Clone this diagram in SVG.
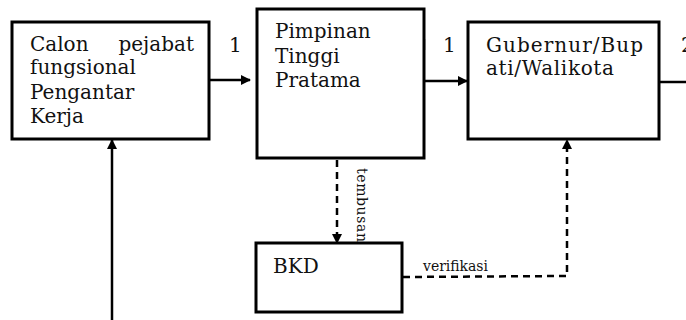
<svg xmlns="http://www.w3.org/2000/svg" width="686" height="320" viewBox="0 0 686 320">
<defs>
<marker id="ah" markerWidth="10" markerHeight="10" refX="9" refY="5" orient="auto" markerUnits="userSpaceOnUse"><path d="M0,0 L10,5 L0,10 Z" fill="#000"/></marker>
<style>
.box{fill:#fff;stroke:#000;stroke-width:3}
.t{font-family:"DejaVu Serif","Liberation Serif",serif;font-size:20px;fill:#111}
.s{font-family:"DejaVu Serif","Liberation Serif",serif;font-size:14px;fill:#111}
.ln{stroke:#000;stroke-width:2.5;fill:none}
.dl{stroke:#000;stroke-width:2.5;fill:none;stroke-dasharray:7,5}
</style>
</defs>
<rect width="686" height="320" fill="#fff"/>
<g id="connectors">
<line class="ln" x1="210" y1="80" x2="250" y2="80" marker-end="url(#ah)"/>
<line class="ln" x1="425" y1="81" x2="467" y2="81" marker-end="url(#ah)"/>
<line class="ln" x1="660" y1="82" x2="686" y2="82"/>
<line class="ln" stroke-width="2" x1="112" y1="320" x2="112" y2="140" marker-end="url(#ah)"/>
<line class="dl" x1="337" y1="160" x2="337" y2="243" marker-end="url(#ah)"/>
<polyline class="dl" points="403,277 567,276 567,140" marker-end="url(#ah)"/>
<line x1="425" y1="39" x2="425" y2="50" stroke="#bbb" stroke-width="1"/>
<text class="t" x="229" y="52">1</text>
<text class="t" x="443" y="52">1</text>
<text class="t" x="681" y="52">2</text>
<text class="s" transform="translate(357,168) rotate(90)" textLength="74">tembusan</text>
<text class="s" x="423" y="271" textLength="65">verifikasi</text>
</g>
<g id="calon">
<rect class="box" x="12" y="22" width="197" height="117"/>
<text class="t" x="30" y="51">Calon</text>
<text class="t" x="194" y="51" text-anchor="end">pejabat</text>
<text class="t" x="30" y="74">fungsional</text>
<text class="t" x="30" y="99">Pengantar</text>
<text class="t" x="30" y="123">Kerja</text>
</g>
<g id="pimpinan">
<rect class="box" x="257" y="9" width="167" height="149"/>
<text class="t" x="275" y="38">Pimpinan</text>
<text class="t" x="275" y="63">Tinggi</text>
<text class="t" x="275" y="87">Pratama</text>
</g>
<g id="gubernur">
<rect class="box" x="468" y="22" width="191" height="117"/>
<text class="t" x="486" y="52" textLength="157">Gubernur/Bup</text>
<text class="t" x="486" y="75" textLength="128">ati/Walikota</text>
</g>
<g id="bkd">
<rect class="box" x="256" y="243" width="146" height="69"/>
<text class="t" x="273" y="273">BKD</text>
</g>
</svg>
